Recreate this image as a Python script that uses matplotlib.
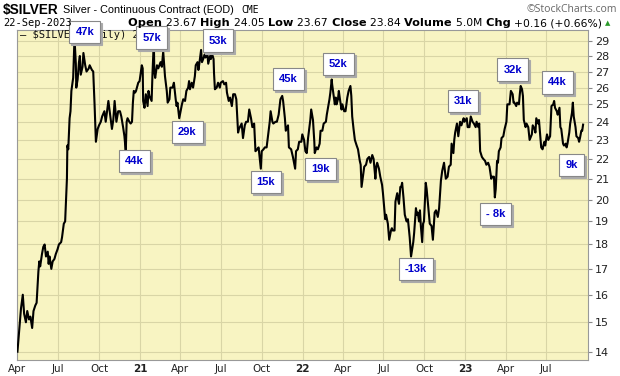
import numpy as np
import matplotlib
matplotlib.use("Agg")
import matplotlib.pyplot as plt
import matplotlib.dates as mdates
import matplotlib.transforms as mtransforms
from matplotlib.ticker import FixedLocator, NullLocator
import pandas as pd

## price readings (date, close) taken off the chart
dates = [
 "2020-04-01","2020-04-06","2020-04-09","2020-04-13","2020-04-16","2020-04-20","2020-04-23","2020-04-27","2020-04-30",
 "2020-05-04","2020-05-07","2020-05-11","2020-05-14","2020-05-18","2020-05-20","2020-05-22","2020-05-26","2020-05-29",
 "2020-06-01","2020-06-04","2020-06-08","2020-06-10","2020-06-12","2020-06-16","2020-06-19","2020-06-23","2020-06-26","2020-06-30",
 "2020-07-03","2020-07-08","2020-07-10","2020-07-14","2020-07-17","2020-07-21","2020-07-22","2020-07-24","2020-07-27","2020-07-29","2020-07-31",
 "2020-08-04","2020-08-06","2020-08-07","2020-08-10","2020-08-11","2020-08-14","2020-08-17","2020-08-19","2020-08-21","2020-08-25","2020-08-27","2020-08-31",
 "2020-09-03","2020-09-08","2020-09-10","2020-09-15","2020-09-18","2020-09-21","2020-09-23","2020-09-24","2020-09-28",
 "2020-10-01","2020-10-05","2020-10-08","2020-10-13","2020-10-16","2020-10-20","2020-10-22","2020-10-26","2020-10-30",
 "2020-11-02","2020-11-05","2020-11-09","2020-11-11","2020-11-13","2020-11-17","2020-11-20","2020-11-24","2020-11-27","2020-11-30",
 "2020-12-02","2020-12-04","2020-12-08","2020-12-11","2020-12-14","2020-12-16","2020-12-18","2020-12-21","2020-12-23","2020-12-28","2020-12-31",
 "2021-01-05","2021-01-07","2021-01-08","2021-01-11","2021-01-14","2021-01-18","2021-01-20","2021-01-22","2021-01-27","2021-01-29",
 "2021-02-01","2021-02-02","2021-02-04","2021-02-08","2021-02-11","2021-02-16","2021-02-19","2021-02-22","2021-02-24","2021-02-26",
 "2021-03-02","2021-03-04","2021-03-08","2021-03-10","2021-03-15","2021-03-18","2021-03-22","2021-03-24","2021-03-26","2021-03-30",
 "2021-04-05","2021-04-08","2021-04-12","2021-04-15","2021-04-19","2021-04-21","2021-04-23","2021-04-27","2021-04-30",
 "2021-05-04","2021-05-06","2021-05-10","2021-05-12","2021-05-14","2021-05-18","2021-05-20","2021-05-24","2021-05-26","2021-05-28",
 "2021-06-01","2021-06-03","2021-06-07","2021-06-09","2021-06-11","2021-06-15","2021-06-16","2021-06-18","2021-06-22","2021-06-25","2021-06-29",
 "2021-07-01","2021-07-06","2021-07-09","2021-07-13","2021-07-15","2021-07-19","2021-07-22","2021-07-26","2021-07-29",
 "2021-08-02","2021-08-05","2021-08-09","2021-08-11","2021-08-13","2021-08-17","2021-08-20","2021-08-24","2021-08-27","2021-08-31",
 "2021-09-03","2021-09-07","2021-09-10","2021-09-14","2021-09-17","2021-09-21","2021-09-24","2021-09-29",
 "2021-10-01","2021-10-05","2021-10-08","2021-10-12","2021-10-15","2021-10-19","2021-10-21","2021-10-25","2021-10-27",
 "2021-11-01","2021-11-04","2021-11-08","2021-11-12","2021-11-16","2021-11-18","2021-11-22","2021-11-24","2021-11-29",
 "2021-12-01","2021-12-06","2021-12-08","2021-12-10","2021-12-15","2021-12-17","2021-12-21","2021-12-24","2021-12-29","2021-12-31",
 "2022-01-04","2022-01-07","2022-01-10","2022-01-13","2022-01-18","2022-01-20","2022-01-24","2022-01-27","2022-01-28",
 "2022-02-01","2022-02-04","2022-02-08","2022-02-10","2022-02-14","2022-02-17","2022-02-22","2022-02-24","2022-02-28",
 "2022-03-02","2022-03-04","2022-03-07","2022-03-08","2022-03-10","2022-03-14","2022-03-16","2022-03-18","2022-03-21","2022-03-23","2022-03-25","2022-03-29","2022-03-31",
 "2022-04-04","2022-04-07","2022-04-11","2022-04-14","2022-04-18","2022-04-20","2022-04-22","2022-04-25","2022-04-28",
 "2022-05-02","2022-05-05","2022-05-09","2022-05-11","2022-05-13","2022-05-16","2022-05-19","2022-05-23","2022-05-26","2022-05-30",
 "2022-06-02","2022-06-06","2022-06-09","2022-06-13","2022-06-15","2022-06-17","2022-06-21","2022-06-24","2022-06-28","2022-06-30",
 "2022-07-05","2022-07-07","2022-07-11","2022-07-14","2022-07-18","2022-07-20","2022-07-22","2022-07-26","2022-07-28",
 "2022-08-01","2022-08-03","2022-08-05","2022-08-08","2022-08-10","2022-08-12","2022-08-15","2022-08-18","2022-08-22","2022-08-25","2022-08-29",
 "2022-09-01","2022-09-06","2022-09-08","2022-09-12","2022-09-14","2022-09-16","2022-09-19","2022-09-21","2022-09-23","2022-09-26","2022-09-28","2022-09-30",
 "2022-10-04","2022-10-06","2022-10-10","2022-10-13","2022-10-17","2022-10-20","2022-10-24","2022-10-27","2022-10-31",
 "2022-11-03","2022-11-07","2022-11-10","2022-11-14","2022-11-16","2022-11-18","2022-11-22","2022-11-25","2022-11-29",
 "2022-12-01","2022-12-05","2022-12-07","2022-12-09","2022-12-13","2022-12-16","2022-12-20","2022-12-23","2022-12-28","2022-12-30",
 "2023-01-04","2023-01-06","2023-01-10","2023-01-13","2023-01-17","2023-01-20","2023-01-24","2023-01-26","2023-01-30",
 "2023-02-01","2023-02-03","2023-02-07","2023-02-10","2023-02-14","2023-02-17","2023-02-21","2023-02-24","2023-02-28",
 "2023-03-02","2023-03-06","2023-03-08","2023-03-10","2023-03-13","2023-03-15","2023-03-17","2023-03-21","2023-03-23","2023-03-27","2023-03-30",
 "2023-04-03","2023-04-05","2023-04-10","2023-04-13","2023-04-17","2023-04-19","2023-04-21","2023-04-25","2023-04-27",
 "2023-05-01","2023-05-03","2023-05-05","2023-05-08","2023-05-10","2023-05-12","2023-05-16","2023-05-18","2023-05-22","2023-05-25","2023-05-30",
 "2023-06-01","2023-06-05","2023-06-07","2023-06-09","2023-06-13","2023-06-15","2023-06-20","2023-06-23","2023-06-27","2023-06-29",
 "2023-07-03","2023-07-06","2023-07-10","2023-07-13","2023-07-17","2023-07-19","2023-07-21","2023-07-25","2023-07-27","2023-07-31",
 "2023-08-02","2023-08-04","2023-08-08","2023-08-10","2023-08-14","2023-08-16","2023-08-18","2023-08-22","2023-08-24","2023-08-28","2023-08-30",
 "2023-09-01","2023-09-05","2023-09-07","2023-09-11","2023-09-13","2023-09-15","2023-09-18","2023-09-20","2023-09-22",
]
closes = [
 14.0,14.9,15.5,16.0,15.3,15.0,15.4,15.1,15.2,
 14.8,15.4,15.6,15.7,16.9,17.3,17.1,17.6,17.9,
 18.0,17.5,17.7,17.2,17.5,17.0,17.3,17.4,17.6,17.8,
 18.0,18.1,18.3,18.9,19.0,21.0,22.7,22.5,24.2,24.6,25.8,
 26.6,28.3,29.2,27.5,26.0,26.5,27.6,28.0,26.8,27.3,28.2,27.4,
 27.0,27.2,27.4,27.1,27.0,25.0,23.5,22.9,23.6,
 23.8,24.0,24.3,24.6,24.0,24.8,25.2,24.4,23.6,
 24.1,25.2,24.0,24.3,24.6,24.6,24.3,23.7,23.2,22.4,
 24.0,24.2,24.0,23.9,24.0,25.1,25.8,25.7,25.8,26.3,26.4,
 27.4,27.2,25.2,24.8,25.6,24.9,25.8,25.5,25.2,26.9,
 29.0,27.0,26.6,27.4,27.2,27.6,27.3,28.3,27.5,26.7,
 25.8,25.1,25.3,26.0,26.0,26.3,25.3,24.9,25.1,24.2,
 25.0,25.3,25.2,25.8,26.0,26.4,25.9,26.3,26.0,
 26.7,27.4,27.6,27.1,27.5,28.4,27.6,27.9,28.1,27.9,
 28.2,27.5,28.0,27.8,28.2,27.8,26.9,25.9,26.0,26.3,26.0,
 26.3,26.4,26.2,26.3,25.7,25.2,25.4,24.9,25.6,
 25.6,25.3,23.4,23.6,23.7,23.9,23.1,23.8,24.0,24.0,
 24.7,24.2,23.7,23.9,22.4,22.5,22.6,21.5,
 22.4,22.5,22.6,22.6,23.2,24.0,24.6,24.0,23.9,
 24.0,24.0,24.4,25.3,25.5,25.2,24.2,23.5,23.8,
 22.6,22.5,22.3,22.1,21.5,22.4,22.5,22.9,22.9,23.3,
 23.0,22.4,22.3,23.1,24.1,24.7,24.1,22.9,22.3,
 22.6,22.5,22.8,23.5,23.5,23.9,24.0,24.4,25.0,
 25.3,25.7,26.5,26.2,25.8,25.0,25.4,25.0,25.3,25.8,25.4,24.7,25.0,
 24.6,24.6,25.4,25.8,26.1,25.5,24.3,23.6,23.0,
 22.7,22.5,21.9,21.7,20.6,21.1,21.6,21.7,22.0,22.1,
 21.8,22.2,22.0,21.0,21.6,21.8,21.5,21.1,20.7,20.3,
 19.1,19.3,18.9,18.2,18.6,18.7,18.6,18.6,19.9,
 20.3,20.0,19.8,20.6,20.6,20.8,20.1,19.3,19.0,19.1,18.3,
 17.5,18.1,18.5,19.6,19.3,19.4,19.0,19.5,18.8,18.1,18.9,19.0,
 20.8,20.5,19.6,18.9,18.8,18.2,19.4,19.5,19.2,
 19.6,20.9,21.4,21.8,21.4,21.0,21.1,21.6,21.7,
 22.8,22.3,23.0,23.4,23.9,23.2,24.0,23.8,24.2,24.0,
 24.2,23.7,23.7,24.3,24.0,23.9,23.7,24.0,23.7,
 23.9,22.4,22.1,22.0,21.9,21.7,21.8,21.6,21.0,
 21.1,21.1,20.1,20.5,21.9,21.8,22.4,22.6,23.1,23.2,23.6,
 24.0,25.0,25.0,25.8,25.6,25.1,25.1,24.9,25.1,
 25.0,25.6,26.1,25.9,25.5,24.1,23.7,23.9,23.7,23.0,23.3,
 23.8,23.6,23.4,24.2,23.9,24.1,22.6,22.5,22.9,22.7,
 23.3,23.0,23.2,24.9,25.0,25.2,24.8,24.6,24.4,24.8,
 23.7,23.6,22.8,22.7,22.8,22.6,22.8,23.4,23.9,24.5,25.1,
 24.3,23.7,23.2,23.1,22.9,23.1,23.5,23.5,23.84,
]

## net position labels
labels = ["47k","57k","53k","29k","44k","45k","15k","19k","52k","31k","32k","44k","9k","-13k","- 8k"]
## where each label box sits (axes fraction)
label_pos = [(0.119,0.995),(0.236,0.977),(0.352,0.968),(0.298,0.691),(0.205,0.603),(0.475,0.852),
             (0.436,0.539),(0.532,0.579),(0.563,0.897),(0.781,0.786),(0.868,0.880),(0.947,0.841),
             (0.971,0.591),(0.699,0.276),(0.838,0.442)]

yticks = [14,15,16,17,18,19,20,21,22,23,24,25,26,27,28,29]
xtick_dates = pd.date_range("2020-04-01","2023-07-01",freq="QS-JAN")

df = pd.DataFrame({"date":pd.to_datetime(dates),"close":closes})

fig = plt.figure(figsize=(6.2,3.76),dpi=100)
fig.patch.set_facecolor("white")
ax = fig.add_axes([17/620, 16/376, 571/620, 330/376])
ax.set_facecolor("#f8f4c2")

ax.plot(df["date"], df["close"], color="black", lw=1.5, zorder=3)

ax.set_yscale("log")
ax.set_ylim(13.73, 29.76)
ax.set_xlim(pd.Timestamp("2020-03-31"), pd.Timestamp("2023-10-03"))

ax.yaxis.set_major_locator(FixedLocator(yticks))
ax.yaxis.set_minor_locator(NullLocator())
ax.set_yticklabels([str(t) for t in yticks])
ax.yaxis.tick_right()
ax.tick_params(axis="y", which="both", length=3, color="#888888", labelsize=8, labelcolor="#222222", pad=2)

ax.set_xticks(mdates.date2num(xtick_dates))
xl = []
for d in xtick_dates:
    xl.append(d.strftime("%y") if d.month == 1 else d.strftime("%b"))
ax.set_xticklabels(xl)
for lab, d in zip(ax.get_xticklabels(), xtick_dates):
    if d.month == 1:
        lab.set_fontweight("bold")
ax.tick_params(axis="x", length=0, labelsize=7.5, labelcolor="#222222", pad=3)

ax.grid(True, which="major", color="#d9d5a6", lw=0.8, zorder=0)
for s in ax.spines.values():
    s.set_color("#999999")
    s.set_linewidth(0.8)

## legend line in the corner
ax.text(0.005, 0.984, "\u2014 $SILVER (Daily) 23.84", transform=ax.transAxes, fontsize=7.5,
        family="DejaVu Sans Mono", va="center", ha="left", color="#111111", zorder=4)

## label boxes with grey drop shadow
shadow = mtransforms.offset_copy(ax.transAxes, fig=fig, x=2, y=-2, units="dots")
for txt, (px, py) in zip(labels, label_pos):
    ax.text(px, py, txt, transform=shadow, fontsize=8, fontweight="bold", color="#aaaaaa",
            ha="center", va="center", family="Liberation Sans", clip_on=False, zorder=5,
            bbox=dict(boxstyle="square,pad=0.55", fc="#aaaaaa", ec="#aaaaaa", lw=0.8))
    ax.text(px, py, txt, transform=ax.transAxes, fontsize=8, fontweight="bold", color="#0000cc",
            ha="center", va="center", family="Liberation Sans", clip_on=False, zorder=6,
            bbox=dict(boxstyle="square,pad=0.55", fc="white", ec="#888888", lw=0.8))

## header
fig.canvas.draw()
r = fig.canvas.get_renderer()

fig.text(3/620, 1-10/376, "$SILVER", fontsize=9.8, fontweight="bold", va="center", ha="left", family="Liberation Sans")
t = fig.text(63/620, 1-10/376, "Silver - Continuous Contract (EOD)", fontsize=7.8, va="center", ha="left", family="Liberation Sans")
xe = 63 + t.get_window_extent(renderer=r).width
fig.text((xe+8)/620, 1-10/376, "CME", fontsize=7, va="center", ha="left", family="DejaVu Sans Mono")
fig.text(617/620, 1-10/376, "\u00a9StockCharts.com", fontsize=7.5, va="center", ha="right", color="#666666", family="Open Sans")
fig.text(3/620, 1-23/376, "22-Sep-2023", fontsize=7.5, va="center", ha="left", family="DejaVu Sans Mono")

parts = [("Open ",True),("23.67 ",False),("High ",True),("24.05 ",False),("Low ",True),("23.67 ",False),
         ("Close ",True),("23.84 ",False),("Volume ",True),("5.0M ",False),("Chg ",True),("+0.16 (+0.66%)",False)]
head = []
x = 128.0
for s, b in parts:
    t = fig.text(x/620, 1-23/376, s, fontsize=8.5 if b else 8, fontweight="bold" if b else "normal",
                 va="center", ha="left", family="DejaVu Sans")
    head.append(t)
    x += t.get_window_extent(renderer=r).width
## squeeze the row so it ends near x=600
k = (600-128.0)/(x-128.0)
x = 128.0
for t in head:
    t.set_fontsize(t.get_fontsize()*k)
    t.set_x(x/620)
    x += t.get_window_extent(renderer=r).width
fig.text((x+3)/620, 1-23/376, "\u25b2", fontsize=5, color="#2a9a2a", va="center", ha="left")

fig.savefig("out.png", dpi=100)
